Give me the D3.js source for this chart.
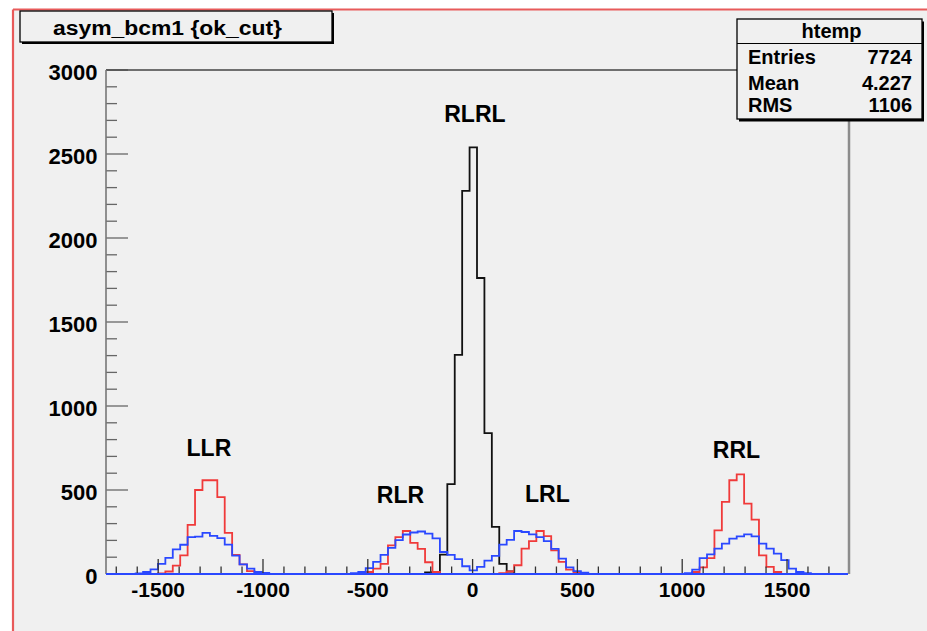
<!DOCTYPE html>
<html>
<head>
<meta charset="utf-8">
<script src="https://cdn.jsdelivr.net/npm/d3@7"></script>
<style>
  html, body { margin: 0; padding: 0; background: #ffffff; }
  svg { display: block; }
  text { font-family: "Liberation Sans", Arial, Helvetica, sans-serif; font-weight: bold; fill: #000; }
</style>
</head>
<body>
<svg id="chart" width="927" height="631"></svg>
<script>
// ---------------- DATA ----------------
const histTitle = "asym_bcm1 {ok_cut}";
const statsName = "htemp";
const statsLabels = ["Entries", "Mean", "RMS"];
const statsValues = ["7724", "4.227", "1106"];

const xMin = -1749, xMax = 1791, nBins = 100;

// bin index -> count (bins not listed are empty)
const blackStart = 43;
const blackCounts = [10, 12, 115, 535, 1304, 2280, 2540, 1762, 838, 280, 60, 15];

const redStart1 = 7;
const redCounts1 = [3, 15, 50, 111, 293, 500, 558, 558, 457, 245, 114, 57, 17, 3];
const redStart2 = 35;
const redCounts2 = [12, 32, 60, 170, 220, 256, 185, 150, 70, 12, 0, 0, 0, 0, 0, 0, 0, 0,
                    5, 15, 52, 151, 196, 256, 225, 141, 72, 26, 8];
const redStart3 = 79;
const redCounts3 = [12, 40, 95, 260, 429, 558, 593, 419, 324, 111, 42, 12];

const blueStart1 = 4;
const blueCounts1 = [4, 12, 27, 60, 96, 146, 174, 220, 222, 245, 227, 213, 175, 109, 57, 32, 12, 6];
const blueStart2 = 33;
const blueCounts2 = [5, 12, 35, 72, 114, 156, 202, 235, 247, 253, 240, 212, 131, 114, 88, 46, 22,
                     42, 80, 108, 175, 203, 256, 250, 236, 220, 196, 150, 92, 40, 17, 8];
const blueStart3 = 78;
const blueCounts3 = [5, 26, 95, 117, 151, 181, 210, 224, 236, 224, 181, 151, 121, 82, 32, 12, 5];

const xMajorTicks = [-1500, -1000, -500, 0, 500, 1000, 1500];
const xTickLabels = ["-1500", "-1000", "-500", "0", "500", "1000", "1500"];
const yMajorTicks = [0, 500, 1000, 1500, 2000, 2500, 3000];
const yTickLabels = ["0", "500", "1000", "1500", "2000", "2500", "3000"];

const peakNames = ["LLR", "RLR", "RLRL", "LRL", "RRL"];
const peakX = [-1258, -344, 11, 357, 1259];
const peakY = [702, 423, 2690, 429, 690];

// ---------------- BUILD ----------------
function fullBins(parts) {
  const arr = new Array(nBins).fill(0);
  parts.forEach(([start, vals]) => vals.forEach((v, i) => { arr[start + i] = v; }));
  return arr;
}
const black = fullBins([[blackStart, blackCounts]]);
const red = fullBins([[redStart1, redCounts1], [redStart2, redCounts2], [redStart3, redCounts3]]);
const blue = fullBins([[blueStart1, blueCounts1], [blueStart2, blueCounts2], [blueStart3, blueCounts3]]);

const svg = d3.select("#chart");
const W = 927, H = 631;
const plot = { left: 106, right: 848, top: 70, bottom: 574 };

const x = d3.scaleLinear().domain([xMin, xMax]).range([plot.left, plot.right]);
const y = d3.scaleLinear().domain([0, 3000]).range([plot.bottom, plot.top]);
const binW = (xMax - xMin) / nBins;

// canvas background with red pad border (top & left)
svg.append("rect").attr("x", 0).attr("y", 0).attr("width", W).attr("height", H).attr("fill", "#ffffff");
svg.append("rect").attr("x", 13).attr("y", 9.5).attr("width", W - 13).attr("height", H - 9.5).attr("fill", "#f0f0f0");
svg.append("line").attr("x1", 13).attr("x2", W).attr("y1", 9.5).attr("y2", 9.5)
  .attr("stroke", "#e85a5a").attr("stroke-width", 2.2);
svg.append("line").attr("x1", 13).attr("x2", 13).attr("y1", 9.5).attr("y2", H)
  .attr("stroke", "#e85a5a").attr("stroke-width", 2.2);

// histograms
function histPath(counts) {
  const pts = [[xMin, 0]];
  counts.forEach((c, i) => { pts.push([xMin + i * binW, c]); });
  pts.push([xMax, counts[nBins - 1]]);
  pts.push([xMax, 0]);
  return d3.line().x(d => x(d[0])).y(d => y(d[1])).curve(d3.curveStepAfter)(pts);
}
const g = svg.append("g");
g.append("path").attr("d", histPath(black)).attr("fill", "none").attr("stroke", "#111").attr("stroke-width", 1.8);
g.append("path").attr("d", histPath(red)).attr("fill", "none").attr("stroke", "#f03a3a").attr("stroke-width", 1.8);
g.append("path").attr("d", histPath(blue)).attr("fill", "none").attr("stroke", "#2a48ff").attr("stroke-width", 1.8);

// axes ticks
const xMinor = d3.range(-1700, 1701, 100);
svg.append("g").selectAll("line").data(xMinor).join("line")
  .attr("x1", d => x(d)).attr("x2", d => x(d))
  .attr("y1", plot.bottom).attr("y2", d => plot.bottom - (d % 500 === 0 ? 15 : 7.5))
  .attr("stroke", "#333").attr("stroke-width", 1.3);
const yMinor = d3.range(0, 3001, 100);
svg.append("g").selectAll("line").data(yMinor).join("line")
  .attr("y1", d => y(d)).attr("y2", d => y(d))
  .attr("x1", plot.left).attr("x2", d => plot.left + (d % 500 === 0 ? 22 : 11))
  .attr("stroke", "#666").attr("stroke-width", 1.3);

// frame lines
svg.append("line").attr("x1", plot.left).attr("x2", 737).attr("y1", plot.top).attr("y2", plot.top)
  .attr("stroke", "#444").attr("stroke-width", 1.6);
svg.append("line").attr("x1", plot.right + 1).attr("x2", plot.right + 1).attr("y1", plot.top).attr("y2", plot.bottom)
  .attr("stroke", "#8c8c8c").attr("stroke-width", 2.5);
svg.append("line").attr("x1", plot.left).attr("x2", plot.left).attr("y1", plot.top).attr("y2", plot.bottom)
  .attr("stroke", "#777").attr("stroke-width", 1.6);
// redraw blue baseline on top of axis
svg.append("line").attr("x1", plot.left).attr("x2", plot.right).attr("y1", y(0)).attr("y2", y(0))
  .attr("stroke", "#2a48ff").attr("stroke-width", 1.8);

// tick labels
svg.append("g").selectAll("text").data(xMajorTicks).join("text")
  .attr("x", d => x(d)).attr("y", 596.5).attr("text-anchor", "middle")
  .attr("font-size", 21).text((d, i) => xTickLabels[i]);
svg.append("g").selectAll("text").data(yMajorTicks).join("text")
  .attr("x", 97.5).attr("y", d => y(d) + 9.5).attr("text-anchor", "end")
  .attr("font-size", 22).text((d, i) => yTickLabels[i]);

// peak labels
svg.append("g").selectAll("text").data(peakNames).join("text")
  .attr("x", (d, i) => x(peakX[i])).attr("y", (d, i) => y(peakY[i]))
  .attr("text-anchor", "middle").attr("font-size", 23).text(d => d);

// title box
svg.append("rect").attr("x", 22).attr("y", 13).attr("width", 312).attr("height", 31).attr("fill", "#000");
svg.append("rect").attr("x", 20).attr("y", 11).attr("width", 312).attr("height", 31)
  .attr("fill", "#f0f0f0").attr("stroke", "#000").attr("stroke-width", 1.3);
svg.append("text").attr("x", 53).attr("y", 35).attr("font-size", 20)
  .attr("textLength", 229).attr("lengthAdjust", "spacingAndGlyphs").text(histTitle);

// stats box
const sb = { x: 737, y: 19, w: 185, h: 100 };
svg.append("rect").attr("x", sb.x + 2).attr("y", sb.y + 2.5).attr("width", sb.w).attr("height", sb.h).attr("fill", "#000");
svg.append("rect").attr("x", sb.x).attr("y", sb.y).attr("width", sb.w).attr("height", sb.h)
  .attr("fill", "#f0f0f0").attr("stroke", "#000").attr("stroke-width", 1.3);
svg.append("line").attr("x1", sb.x).attr("x2", sb.x + sb.w).attr("y1", 43.5).attr("y2", 43.5)
  .attr("stroke", "#000").attr("stroke-width", 1.2);
svg.append("text").attr("x", sb.x + sb.w / 2 + 2).attr("y", 37.5).attr("text-anchor", "middle")
  .attr("font-size", 20).text(statsName);
const rowY = [63.5, 89.5, 111.5];
svg.append("g").selectAll("text").data(statsLabels).join("text")
  .attr("x", 748).attr("y", (d, i) => rowY[i]).attr("font-size", 20).text(d => d);
svg.append("g").selectAll("text").data(statsValues).join("text")
  .attr("x", 912).attr("y", (d, i) => rowY[i]).attr("text-anchor", "end").attr("font-size", 20).text(d => d);
</script>
</body>
</html>
